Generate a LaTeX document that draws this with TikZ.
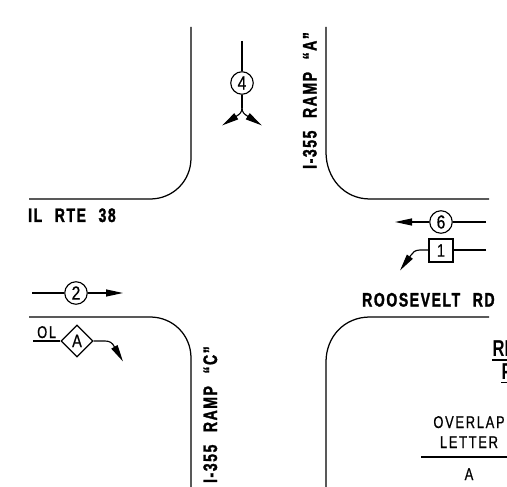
\documentclass[tikz,border=0pt]{standalone}
\usepackage{fontspec}
\setmainfont{Liberation Sans}
\newfontfamily\boldlab[FakeStretch=0.72,LetterSpace=8,WordSpace=2.3,BoldFeatures={FakeBold=1.5}]{Liberation Sans}
\newfontfamily\thinlab[FakeStretch=0.76,LetterSpace=10,FakeBold=0.6]{Liberation Sans}
\newfontfamily\numlab[FakeStretch=0.82,FakeBold=0.6]{Liberation Sans}
\usetikzlibrary{arrows.meta,shapes.geometric}
\tikzset{
  road/.style={line width=1.25pt,black},
  flow/.style={line width=1.15pt,black},
  head/.style={-{Triangle[length=17pt,width=7pt]}},
  ring/.style={circle,draw,line width=1.15pt,minimum size=22.5pt,inner sep=0pt,font=\numlab\fontsize{19}{19}\selectfont},
  sq/.style={rectangle,draw,line width=1.15pt,minimum width=24pt,minimum height=23pt,inner sep=0pt,font=\numlab\fontsize{18}{18}\selectfont},
  dia/.style={diamond,draw,line width=1.15pt,minimum width=32pt,minimum height=32pt,aspect=1,inner sep=0pt,font=\numlab\fontsize{18}{18}\selectfont},
  rlabel/.style={inner sep=0pt,font=\boldlab\bfseries\fontsize{19.5}{19.5}\selectfont},
  plain/.style={inner sep=0pt,font=\thinlab\fontsize{17}{17}\selectfont},
  heading/.style={inner sep=0pt,font=\bfseries\fontsize{23}{23}\selectfont},
}
\begin{document}
\begin{tikzpicture}[x=1pt,y=-1pt]
\useasboundingbox (0,0) rectangle (507,487);
\clip (0,0) rectangle (507,487);
\fill[white] (0,0) rectangle (507,487);
% roads
\draw[road] (29,199) -- (150,199) .. controls (173,199) and (191,181) .. (191,158) -- (191,27);
\draw[road] (326,27) -- (326,152) .. controls (326,178) and (344,199) .. (370,199) -- (489,199);
\draw[road] (29,317) -- (150,317) .. controls (173,317) and (191,335) .. (191,358) -- (191,487);
\draw[road] (326,487) -- (326,362) .. controls (326,337) and (344,317) .. (370,317) -- (489,317);
% labels
\node[rlabel,anchor=base west] (il) at (28,222) {IL RTE 38};
\node[rlabel,anchor=base west] (rr) at (362,306.5) {ROOSEVELT RD};
\node[rlabel,rotate=90,anchor=base west] (ra) at (316.5,169) {I-355 RAMP “A”};
\node[rlabel,rotate=90,anchor=base east] (rc) at (217,346) {I-355 RAMP “C”};
% 4
\coordinate (s4) at (242,41);
\coordinate (j4) at (242,108);
\coordinate (l4) at (222,125.5);
\coordinate (r4) at (262,125.5);
\node[ring] (n4) at (242,83) {4};
\draw[flow] (s4) -- (n4);
\draw[flow] (n4) -- (j4);
\draw[flow,head] (j4) .. controls (242,112) and (240,114) .. (236.7,116) -- (l4);
\draw[flow,head] (j4) .. controls (242,112) and (244,114) .. (247.3,116) -- (r4);
% 6
\coordinate (e6) at (486,222);
\coordinate (t6) at (395,222);
\node[ring] (n6) at (441,222) {6};
\draw[flow] (e6) -- (n6);
\draw[flow,head] (n6) -- (t6);
% 1
\coordinate (e1) at (486,250);
\coordinate (t1) at (400,270.5);
\node[sq] (n1) at (441,250.5) {1};
\draw[flow] (e1) -- (n1.east |- e1);
\draw[flow,head] (n1.west |- e1) -- (420,250) .. controls (415,250) and (412.5,252.5) .. (410.7,255.5) -- (t1);
% 2
\coordinate (s2) at (32,293);
\coordinate (t2) at (123,293);
\node[ring] (n2) at (76,293) {2};
\draw[flow] (s2) -- (n2);
\draw[flow,head] (n2) -- (t2);
% A
\coordinate (sA) at (33,341);
\coordinate (tA) at (123,361.5);
\node[dia] (nA) at (77,341) {A};
\draw[flow] (sA) -- (nA);
\draw[flow,head] (nA.east) -- (105,341) .. controls (110,341) and (112.5,343) .. (114.5,347) -- (tA);
\node[plain,anchor=base west] (ol) at (37,338) {OL};
% table
\node[plain,anchor=base] (ov) at (469,428) {OVERLAP};
\node[plain,anchor=base] (le) at (469,448) {LETTER};
\node[plain,anchor=base] (aa) at (469,480) {A};
\coordinate (tl) at (421,457);
\coordinate (tr) at (507,457);
\draw[road] (tl) -- (tr);
\node[heading,anchor=base west] (t1x) at (492.5,356.5) {\addfontfeature{FakeStretch=0.72}RE};
\node[heading,anchor=base west] (t2x) at (501.5,379) {\addfontfeature{FakeStretch=0.72}PH};
\coordinate (u1) at (492,360);\coordinate (u1e) at (507,360);
\coordinate (u2) at (501,382.5);\coordinate (u2e) at (507,382.5);
\draw[road] (u1) -- (u1e);
\draw[road] (u2) -- (u2e);
\end{tikzpicture}
\end{document}
